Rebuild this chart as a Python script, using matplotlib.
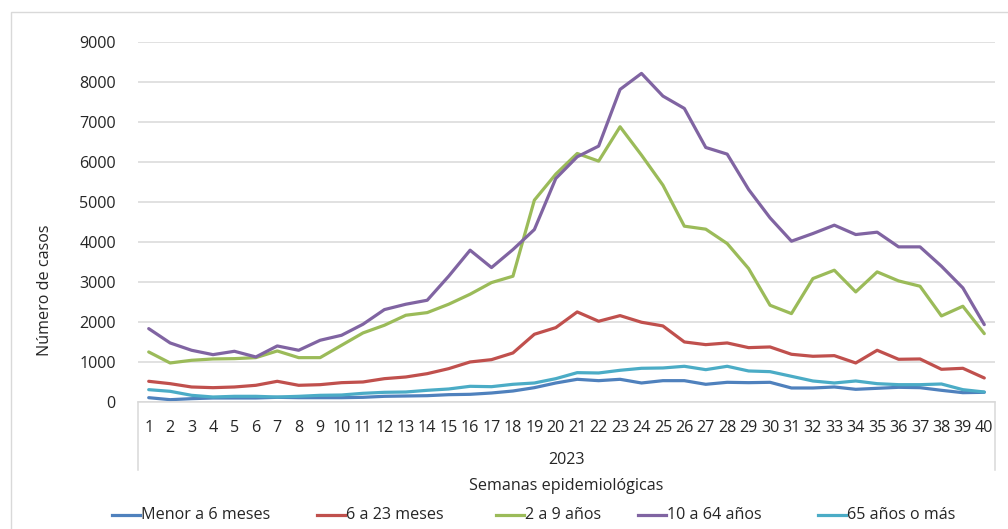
import numpy as np
import matplotlib
matplotlib.use("Agg")
import matplotlib.pyplot as plt
from matplotlib.lines import Line2D
from matplotlib.patches import Rectangle

plt.rcParams['font.family'] = ['Open Sans', 'DejaVu Sans']

semanas = list(range(1, 41))

menor_6m = [108, 58, 83, 100, 100, 100, 117, 108, 108, 108,
            117, 142, 150, 158, 183, 192, 225, 275, 358, 475,
            567, 533, 567, 475, 533, 533, 442, 492, 483, 492,
            350, 350, 375, 317, 342, 367, 358, 292, 233, 242]
m6_23 = [517, 458, 375, 358, 375, 417, 517, 417, 433, 483,
         500, 583, 625, 708, 833, 1000, 1058, 1225, 1692, 1858,
         2250, 2017, 2158, 1992, 1900, 1500, 1433, 1475, 1358, 1375,
         1192, 1142, 1158, 975, 1292, 1067, 1075, 817, 842, 600]
a2_9 = [1250, 975, 1042, 1075, 1083, 1108, 1275, 1108, 1108, 1417,
        1725, 1917, 2167, 2233, 2442, 2692, 2983, 3142, 5042, 5692,
        6208, 6017, 6875, 6167, 5417, 4392, 4317, 3958, 3333, 2417,
        2208, 3083, 3292, 2750, 3250, 3025, 2892, 2150, 2392, 1708]
a10_64 = [1833, 1475, 1292, 1183, 1267, 1125, 1400, 1292, 1542, 1667,
          1942, 2308, 2442, 2542, 3142, 3792, 3358, 3808, 4308, 5583,
          6125, 6392, 7808, 8208, 7642, 7333, 6358, 6192, 5308, 4600,
          4017, 4208, 4417, 4183, 4242, 3875, 3875, 3392, 2850, 1933]
a65_mas = [308, 267, 167, 125, 142, 142, 125, 142, 167, 175,
           217, 242, 250, 292, 325, 392, 383, 442, 475, 583,
           733, 725, 792, 842, 850, 892, 808, 892, 775, 758,
           642, 525, 475, 525, 458, 433, 433, 450, 308, 250]

series = [menor_6m, m6_23, a2_9, a10_64, a65_mas]
etiquetas = ["Menor a 6 meses", "6 a 23 meses", "2 a 9 años", "10 a 64 años", "65 años o más"]
colores = ["#4F81BD", "#C0504D", "#9BBB59", "#8064A2", "#4BACC6"]

W, H = 1008, 529
fig = plt.figure(figsize=(W / 100, H / 100), dpi=100)
txt = "#262626"
fs = 11.6

# borde exterior del grafico
fig.add_artist(Rectangle((11 / W, -0.05), 1.2, 1 - 12 / H + 0.05, transform=fig.transFigure,
                         fill=False, edgecolor="#D9D9D9", lw=1))

x0, x1 = 138, 995
ytop, ybot = 41.7, 402
ax = fig.add_axes([x0 / W, 1 - ybot / H, (x1 - x0) / W, (ybot - ytop) / H])

for s, c in zip(series, colores):
    ax.plot(semanas, s, color=c, lw=2.3, solid_capstyle="round", solid_joinstyle="round")

ax.set_xlim(0.5, 40.5)
ax.set_ylim(0, 9000)
ax.set_yticks(np.arange(0, 9001, 1000))
ax.set_yticklabels([str(v) for v in range(0, 9001, 1000)], fontsize=fs, color=txt)
ax.set_xticks(semanas)
ax.set_xticklabels([str(s) for s in semanas], fontsize=fs, color=txt)
ax.tick_params(axis="y", length=0, pad=16)
ax.tick_params(axis="x", length=0, pad=13)
ax.grid(axis="y", color="#D9D9D9", lw=1.1)
ax.set_axisbelow(True)
for sp in ["top", "right", "left"]:
    ax.spines[sp].set_visible(False)
ax.spines["bottom"].set_color("#D9D9D9")
ax.spines["bottom"].set_linewidth(1.1)

# caja del eje de categorias multinivel
for xp in (x0, x1):
    fig.add_artist(Line2D([xp / W, xp / W], [1 - ybot / H, 1 - 470 / H], transform=fig.transFigure,
                          color="#D9D9D9", lw=1.1))

xc = (x0 + x1) / 2 / W
fig.text(xc, 1 - 460 / H, "2023", ha="center", va="center", fontsize=fs, color=txt)
fig.text(xc, 1 - 486 / H, "Semanas epidemiológicas", ha="center", va="center", fontsize=fs, color=txt)
fig.text(45 / W, 1 - 290 / H, "Número de casos", rotation=90, ha="center", va="center",
         fontsize=fs, color=txt)

# leyenda
leg_x = [112, 317, 496, 638, 818]
yl = 1 - 515 / H
for lx, lab, c in zip(leg_x, etiquetas, colores):
    fig.add_artist(Line2D([lx / W, (lx + 28) / W], [yl, yl], transform=fig.transFigure,
                          color=c, lw=2.3))
    fig.text((lx + 29) / W, yl, lab, ha="left", va="center", fontsize=fs, color=txt)

fig.savefig("out.png", dpi=100)
